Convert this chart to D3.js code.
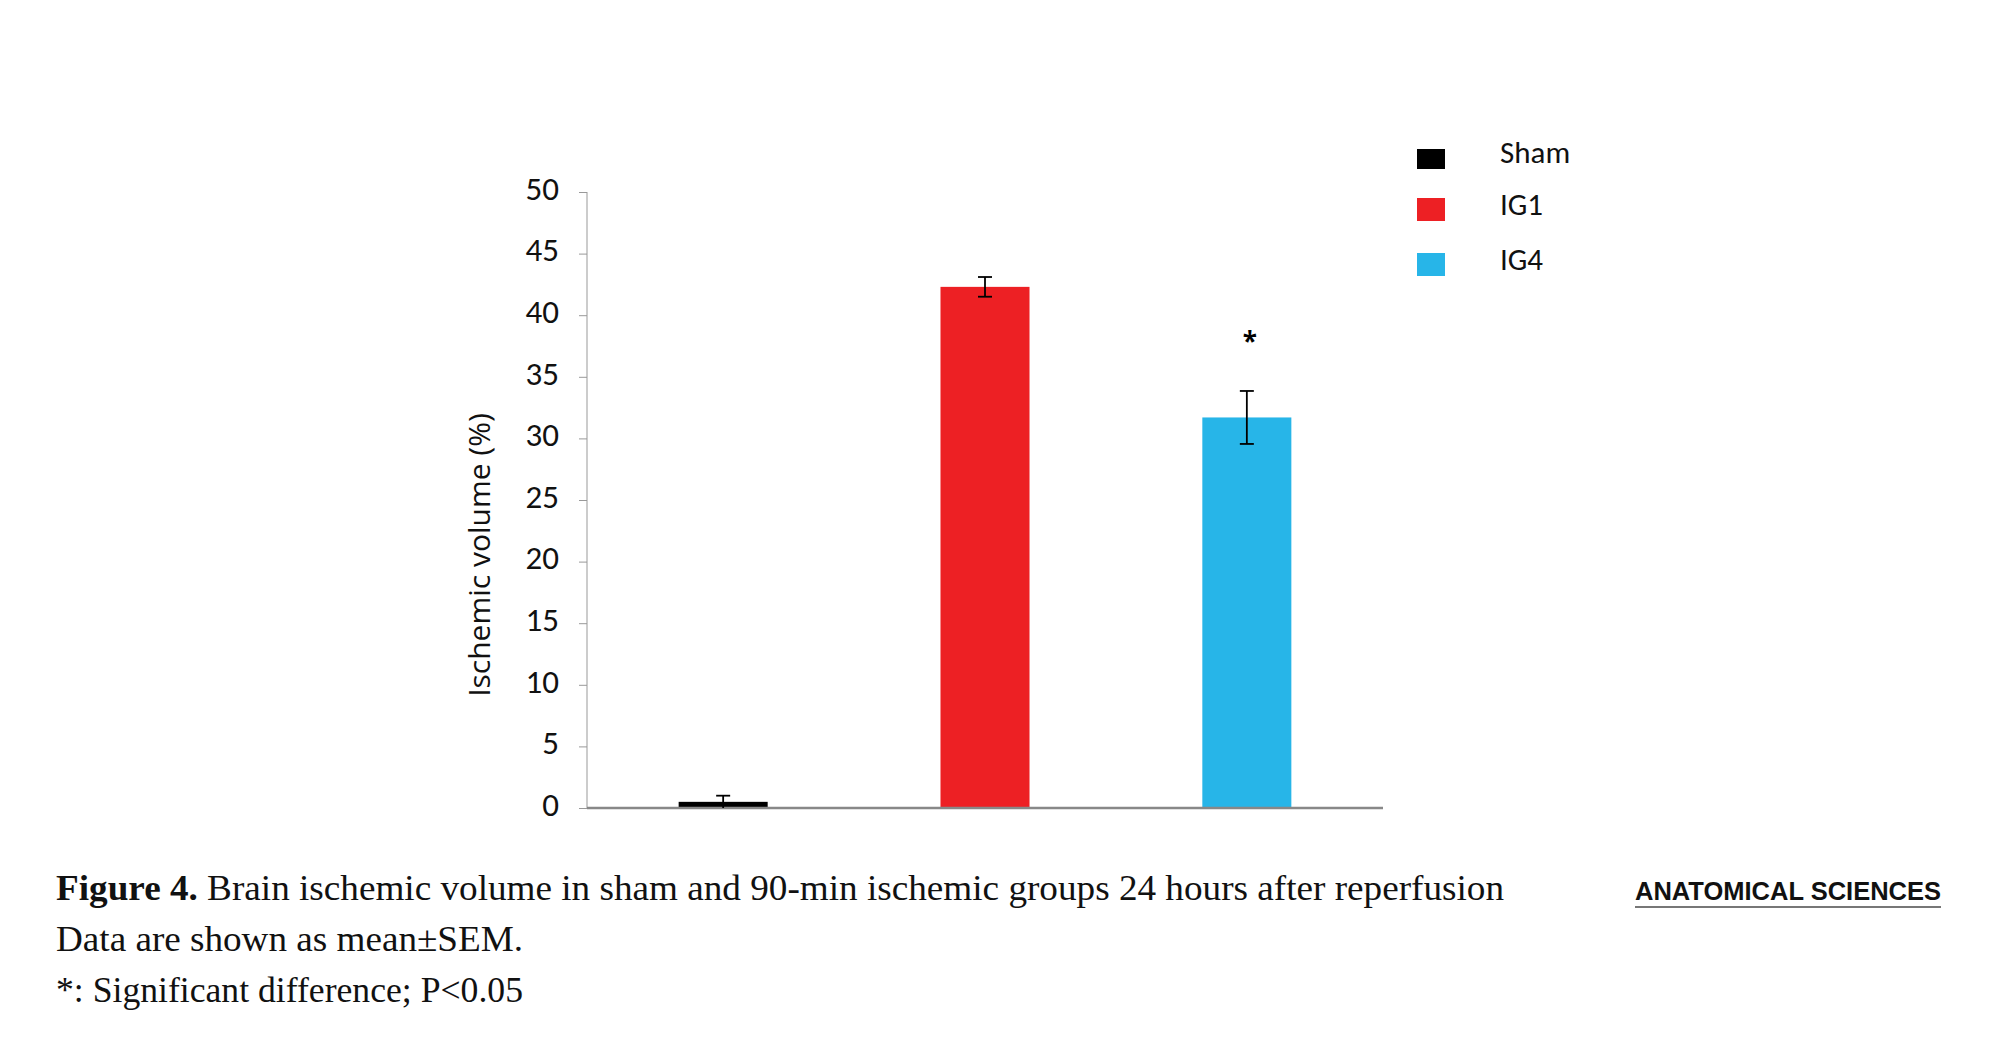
<!DOCTYPE html>
<html><head><meta charset="utf-8">
<script src="https://cdn.jsdelivr.net/npm/d3@7"></script>
<style>body{margin:0;background:#fff}</style></head>
<body><svg id="c" width="1993" height="1048"></svg>
<script>
const categories = ["Sham","IG1","IG4"];
const values = [0.5, 42.3, 31.7];
const errors = [0.5, 0.8, 2.15];
const colors = ["#000000","#ed2024","#27b5e8"];
const yTicks = [0,5,10,15,20,25,30,35,40,45,50];
const sig = ["","","*"];

const svg = d3.select("#c");
const x0 = 587, x1 = 1383, yb = 808, yt = 192;
const y = d3.scaleLinear().domain([0,50]).range([yb,yt]);
const x = d3.scaleBand().domain(categories).range([x0,x1]).paddingInner(0.66).paddingOuter(0.35);

const ax = svg.append("g").attr("transform",`translate(${x0},0)`)
  .call(d3.axisLeft(y).tickValues(yTicks).tickSize(8).tickPadding(20).tickFormat(d3.format("d")));
ax.select(".domain").attr("stroke","#999").attr("d",`M0,${yb}V${yt}`);
ax.selectAll(".tick line").attr("stroke","#999");
ax.selectAll("text").attr("font-family","Calibri, Carlito, 'Open Sans', sans-serif").attr("font-size",33).attr("fill","#111").attr("dy","0.22em");

svg.append("text").attr("transform","translate(490,555) rotate(-90)").attr("text-anchor","middle")
  .attr("font-family","'Open Sans', sans-serif").attr("font-size",30).attr("fill","#111").text("Ischemic volume (%)");

svg.selectAll(".bar").data(categories).enter().append("rect")
  .attr("x",d=>x(d)).attr("width",x.bandwidth())
  .attr("y",(d,i)=>y(values[i])).attr("height",(d,i)=>yb-y(values[i]))
  .attr("fill",(d,i)=>colors[i]);

svg.append("line").attr("x1",x0).attr("x2",x1).attr("y1",yb).attr("y2",yb).attr("stroke","#888").attr("stroke-width",2.5);

categories.forEach((c,i)=>{
  const cx = x(c)+x.bandwidth()/2;
  const g = svg.append("g").attr("stroke","#000").attr("stroke-width",1.8);
  const lo = Math.max(0, values[i]-errors[i]);
  g.append("line").attr("x1",cx).attr("x2",cx).attr("y1",y(values[i]+errors[i])).attr("y2",y(lo));
  g.append("line").attr("x1",cx-7).attr("x2",cx+7).attr("y1",y(values[i]+errors[i])).attr("y2",y(values[i]+errors[i]));
  if(lo>0) g.append("line").attr("x1",cx-7).attr("x2",cx+7).attr("y1",y(lo)).attr("y2",y(lo));
  if(sig[i]) svg.append("text").attr("x",cx+3).attr("y",y(values[i]+errors[i])-40).attr("text-anchor","middle")
    .attr("font-family","'Open Sans',sans-serif").attr("font-size",26).attr("font-weight","bold").text(sig[i]);
});

const leg = [[149,169],[198,221],[253,276]];
categories.forEach((c,i)=>{
  svg.append("rect").attr("x",1417).attr("y",leg[i][0]).attr("width",28).attr("height",leg[i][1]-leg[i][0]).attr("fill",colors[i]);
  svg.append("text").attr("x",1500).attr("y",leg[i][1]-6).attr("font-family","Calibri, Carlito, 'Open Sans', sans-serif")
    .attr("font-size",31).attr("fill","#111").text(c);
});

const cap = svg.append("g").attr("font-family","'Palatino Linotype','Book Antiqua','Liberation Serif',serif").attr("font-size",35).attr("fill","#111");
const t1 = cap.append("text").attr("x",56).attr("y",900).attr("textLength",1448).attr("lengthAdjust","spacingAndGlyphs");
t1.append("tspan").attr("font-weight","bold").text("Figure 4.");
t1.append("tspan").text(" Brain ischemic volume in sham and 90-min ischemic groups 24 hours after reperfusion");
cap.append("text").attr("x",56).attr("y",951).attr("textLength",467).attr("lengthAdjust","spacingAndGlyphs").text("Data are shown as mean±SEM.");
cap.append("text").attr("x",56).attr("y",1002).attr("textLength",467).attr("lengthAdjust","spacingAndGlyphs").text("*: Significant difference; P<0.05");

svg.append("text").attr("x",1635).attr("y",900).attr("font-family","'Liberation Sans',sans-serif").attr("font-weight","bold")
  .attr("font-size",25).attr("textLength",306).attr("lengthAdjust","spacingAndGlyphs").attr("fill","#111").text("ANATOMICAL SCIENCES");
svg.append("line").attr("x1",1635).attr("x2",1941).attr("y1",907).attr("y2",907).attr("stroke","#777").attr("stroke-width",2);
</script></body></html>
